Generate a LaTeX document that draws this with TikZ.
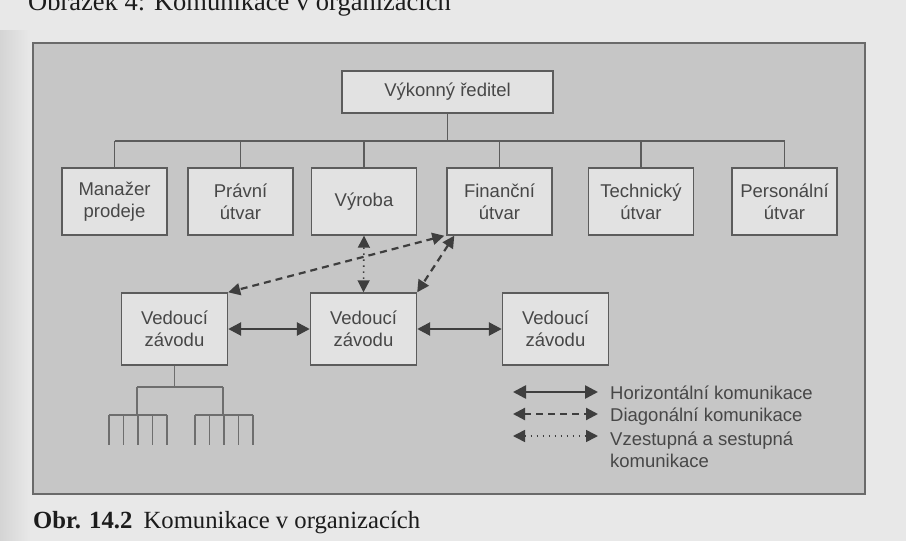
\documentclass[tikz,border=0pt]{standalone}
\usepackage{fontspec}
\setmainfont{Liberation Sans}
\newfontfamily\capfont{Liberation Serif}
\usepackage{tikz}
\usetikzlibrary{positioning, arrows.meta}
\definecolor{ocInk}{HTML}{474747}
\definecolor{ocLine}{HTML}{5C5C5C}
\definecolor{ocArrow}{HTML}{3E3E3E}
\definecolor{ocTree}{HTML}{6E6E6E}
\definecolor{ocPanel}{HTML}{C6C6C6}
\definecolor{ocBox}{HTML}{E2E2E2}
\definecolor{ocPage}{HTML}{E8E8E8}
\definecolor{ocShade}{HTML}{D4D4D4}
\definecolor{ocFrame}{HTML}{6A6A6A}
\definecolor{ocText}{HTML}{1C1C1C}

\begin{document}
\begin{tikzpicture}[
    x=1pt, y=-1pt,
    font=\fontsize{18.5}{22}\selectfont,
    unit/.style  ={draw=ocLine, line width=1.4pt, fill=ocBox, text=ocInk, align=center, inner sep=0pt, minimum width=105pt, minimum height=67pt},
    plant/.style ={unit, minimum width=106pt, minimum height=72pt},
    org/.style   ={ocLine, line width=1.3pt},
    tree/.style  ={ocTree, line width=1.2pt},
    horiz/.style ={>={Triangle[length=13pt, width=13pt]}, <->, ocArrow, line width=2.6pt},
    diag/.style  ={>={Triangle[length=12pt, width=12pt]}, <->, ocArrow, line width=2.2pt, dash pattern=on 7pt off 5pt},
    updown/.style={>={Triangle[length=12pt, width=12pt]}, <->, ocArrow, line width=1.6pt, dash pattern=on 1.5pt off 4.5pt},
    legtxt/.style={anchor=base west, inner sep=0pt, text=ocInk},
    figcap/.style={anchor=base west, inner sep=0pt, text=ocText},
]
\useasboundingbox (0,0) rectangle (906,541);

% ---- Page and grey panel ----
\fill[ocPage] (0,0) rectangle (906,541);
\shade[left color=ocShade, right color=ocPage] (0,30) rectangle (30,541);
\draw[ocFrame, line width=1.6pt, fill=ocPanel] (33,43) rectangle (865,494);

\node[figcap, font=\capfont\fontsize{26.5}{30}\selectfont] (figtop) at (28,10) {Obrázek 4: Komunikace v organizacích};
\node[figcap, font=\capfont\fontsize{24.7}{28}\selectfont] (figcap) at (33,528) {\textbf{Obr. 14.2}\hspace{0.45em}Komunikace v organizacích};

% ---- Top of the organisation ----
\node[unit, minimum width=211pt, minimum height=42pt] (ceo) at (447.5,92) {Výkonný ředitel};

\node[unit] (sales) at (114.5,201.5) {Manažer\\prodeje};
\node[unit] (legal) at (240.5,201.5) {Právní\\útvar};
\node[unit] (prod)  at (364,201.5)   {Výroba};
\node[unit] (fin)   at (499.5,201.5) {Finanční\\útvar};
\node[unit] (tech)  at (641,201.5)   {Technický\\útvar};
\node[unit] (hr)    at (784.5,201.5) {Personální\\útvar};

\coordinate (bus) at (447.5,141);
\draw[org] (ceo.south) -- (bus);
\draw[org] (sales.north |- bus) -- (hr.north |- bus);
\foreach \u in {sales,legal,prod,fin,tech,hr}
  \draw[org] (\u.north |- bus) -- (\u.north);

% ---- Plant managers ----
\node[plant] (pm1) at (174.5,329) {Vedoucí\\závodu};
\node[plant] (pm2) at (363.5,329) {Vedoucí\\závodu};
\node[plant] (pm3) at (555.5,329) {Vedoucí\\závodu};

\draw[horiz] (pm1.east) -- (pm2.west);
\draw[horiz] (pm2.east) -- (pm3.west);
\draw[updown] (prod.south) -- (pm2.north);
\draw[diag] ([xshift=-2pt]fin.south west) -- (pm1.north east);
\draw[diag] ([xshift=8pt]fin.south west) -- (pm2.north east);

% ---- Small tree under the first plant ----
\coordinate (tl) at (137,387);
\coordinate (tr) at (223,387);
\coordinate (sl) at (138,415);
\coordinate (sr) at (224,415);
\draw[tree] (pm1.south) -- (pm1.south |- tl);
\draw[tree] (tl) -- (tr);
\draw[tree] (tl) -- (tl |- sl);
\draw[tree] (tr) -- (tr |- sr);
\foreach \s in {sl,sr} {
  \draw[tree] ([xshift=-29pt]\s) -- ([xshift=29pt]\s);
  \foreach \dx in {-29,-14.5,0,14.5,29}
    \draw[tree] ([xshift=\dx pt]\s) -- ++(0,30);
}

% ---- Legend ----
\coordinate (lh1) at (513,392);
\coordinate (lh2) at (598,392);
\coordinate (ld1) at (513,414);
\coordinate (ld2) at (598,414);
\coordinate (lv1) at (513,436);
\coordinate (lv2) at (598,436);
\draw[horiz] (lh1) -- (lh2);
\draw[diag] (ld1) -- (ld2);
\draw[updown] (lv1) -- (lv2);

\node[legtxt] (lgh)  at (610,399)   {Horizontální komunikace};
\node[legtxt] (lgd)  at (610,421.5) {Diagonální komunikace};
\node[legtxt] (lgv)  at (610,445)   {Vzestupná a sestupná};
\node[legtxt] (lgv2) at (610,467)   {komunikace};

\end{tikzpicture}
\end{document}
